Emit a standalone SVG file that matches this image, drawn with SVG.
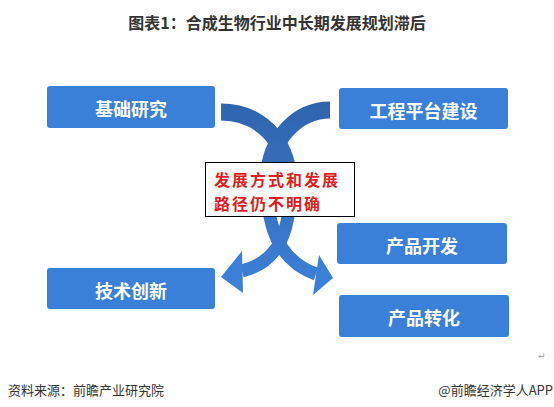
<svg xmlns="http://www.w3.org/2000/svg" width="554" height="407" viewBox="0 0 554 407">
<style>
.box{fill:#3b80d8;}
.bt{font-family:"Noto Sans CJK SC","Noto Sans",sans-serif;font-weight:bold;font-size:18px;fill:#ffffff;text-anchor:middle;dominant-baseline:central;}
.title{font-family:"Noto Sans CJK SC","Noto Sans",sans-serif;font-weight:bold;font-size:16px;fill:#333333;text-anchor:middle;dominant-baseline:central;}
.foot{font-family:"Noto Sans CJK SC","Noto Sans",sans-serif;font-size:13px;fill:#333333;dominant-baseline:central;}
.red{font-family:"Noto Sans CJK SC","Noto Sans",sans-serif;font-weight:bold;font-size:16px;letter-spacing:2px;fill:#e01e1e;dominant-baseline:central;}
.band{fill:none;stroke:url(#g);stroke-width:17;}
.band2{fill:none;stroke:url(#g);stroke-width:13;}
.head{fill:#3b80d8;}
</style>
<defs>
<linearGradient id="g" gradientUnits="userSpaceOnUse" x1="0" y1="100" x2="0" y2="290">
<stop offset="0" stop-color="#2f64ad"/>
<stop offset="0.45" stop-color="#3670be"/>
<stop offset="1" stop-color="#3b80d8"/>
</linearGradient>
</defs>
<rect width="554" height="407" fill="#ffffff"/>
<text class="title" x="277" y="22">图表1：合成生物行业中长期发展规划滞后</text>
<g id="connectors">
<path class="band" d="M221,112 C258,112 286,138 289,180"/>
<path class="band2" d="M289,178 C293,232 278,262 242,271"/>
<polygon class="head" points="221,277 242,251 243,293"/>
<path class="band" d="M330,110 C300,110 270,135 268,180"/>
<path class="band2" d="M268,178 C265,230 282,262 316,274"/>
<polygon class="head" points="333,278 319,255 313,295"/>
</g>
<g id="n1"><rect class="box" x="47" y="86" width="168" height="42" rx="3"/><text class="bt" x="131" y="108">基础研究</text></g>
<g id="n2"><rect class="box" x="339" y="88" width="169" height="41" rx="3"/><text class="bt" x="423.5" y="110">工程平台建设</text></g>
<g id="n3"><rect class="box" x="47" y="268" width="168" height="41" rx="3"/><text class="bt" x="131" y="290">技术创新</text></g>
<g id="n4"><rect class="box" x="337" y="223" width="170" height="41" rx="3"/><text class="bt" x="422" y="245">产品开发</text></g>
<g id="n5"><rect class="box" x="339" y="295" width="170" height="42" rx="3"/><text class="bt" x="424" y="317">产品转化</text></g>
<g id="center">
<rect x="205.5" y="162.5" width="149" height="54" fill="#ffffff" stroke="#000000" stroke-width="1"/>
<text class="red" x="214" y="179">发展方式和发展</text>
<text class="red" x="214" y="203">路径仍不明确</text>
</g>
<text x="538" y="356" style="font-family:'DejaVu Sans',sans-serif;font-size:9px;fill:#999999;dominant-baseline:central;">↵</text>
<text class="foot" x="8" y="389">资料来源：前瞻产业研究院</text>
<text class="foot" x="553" y="389" text-anchor="end">@前瞻经济学人APP</text>
</svg>
